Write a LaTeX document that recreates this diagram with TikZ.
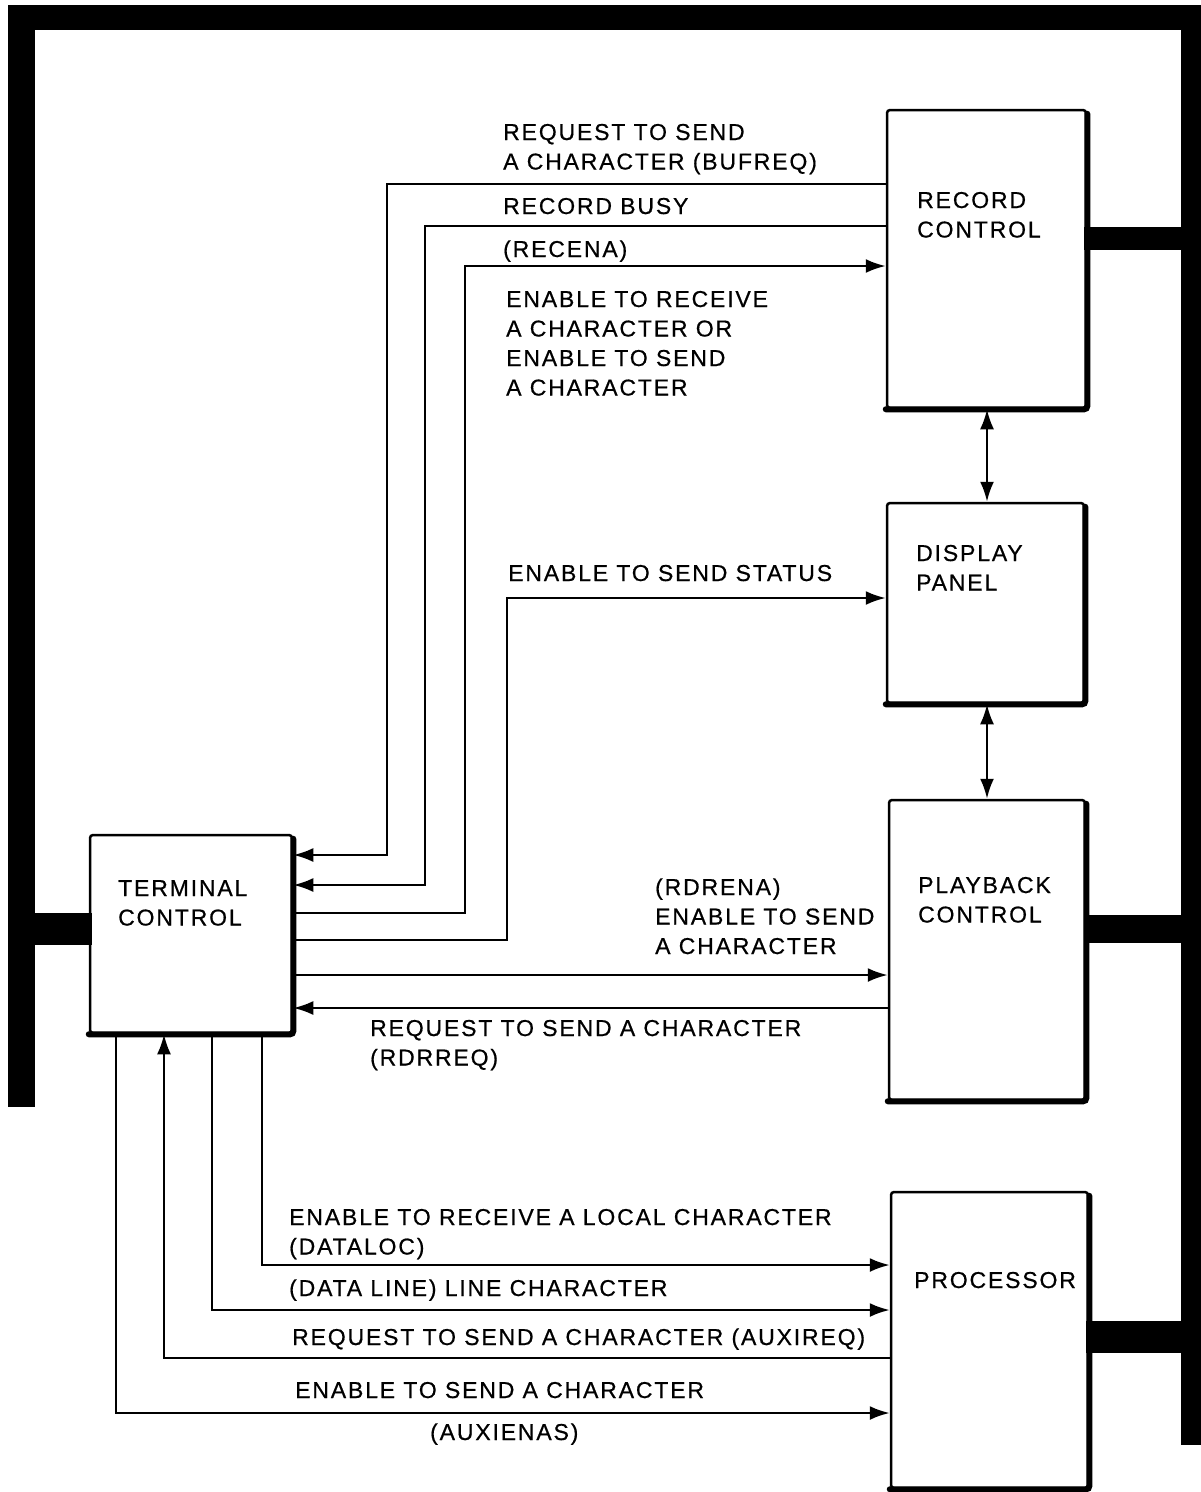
\documentclass[tikz,border=0pt]{standalone}
\usepackage{fontspec}
\setmainfont{Liberation Sans}[LetterSpace=8,FakeBold=0.6]
\usetikzlibrary{arrows.meta}

\begin{document}
\begin{tikzpicture}[x=1pt,y=-1pt,
  every node/.style={font=\fontsize{23}{29.5}\selectfont},
  unit/.style={draw,line width=2.5pt,rounded corners=3pt,inner sep=0pt},
  shade edge/.style={line width=6pt,rounded corners=3pt,line cap=round},
  sig/.style={line width=2.4pt},
  tip/.style={-{Latex[length=20pt,width=14pt]}},
  both tips/.style={{Latex[length=20pt,width=14pt]}-{Latex[length=20pt,width=14pt]}},
  lbl/.style={anchor=base west,inner sep=0pt,align=left},
  bus/.style={fill=black}]

\useasboundingbox (0,0) rectangle (1201,1492);

% ---- system bus frame ----
\fill[bus] (8,5) rectangle (1201,30);
\fill[bus] (8,5) rectangle (35,1107);
\fill[bus] (1181,5) rectangle (1201,1445);
\fill[bus] (35,913) rectangle (92,945);
\fill[bus] (1084,227) rectangle (1181,250);
\fill[bus] (1084,915) rectangle (1181,943);
\fill[bus] (1086,1321) rectangle (1181,1353);

% ---- functional units ----
\node[unit,minimum width=199pt,minimum height=298pt] (rc) at (986.5,259) {};
\node[unit,minimum width=197pt,minimum height=200pt] (dp) at (985.5,603) {};
\node[unit,minimum width=196pt,minimum height=300pt] (pb) at (987,950) {};
\node[unit,minimum width=197pt,minimum height=296pt] (pr) at (989.5,1340) {};
\node[unit,minimum width=202pt,minimum height=198pt] (tc) at (191,934) {};

% heavy right and bottom edges of each unit
\foreach \u in {rc,dp,pb,pr,tc}
  \draw[shade edge] ([yshift=-5pt]\u.north east) -- (\u.south east) -- (\u.south west);

% unit titles (base = last line's baseline)
\node[lbl] (rct) at (917,237.5) {RECORD\\CONTROL};
\node[lbl] (dpt) at (916,590.5) {DISPLAY\\PANEL};
\node[lbl] (pbt) at (918,922.5) {PLAYBACK\\CONTROL};
\node[lbl] (prt) at (914,1288) {PROCESSOR};
\node[lbl] (tct) at (118,925.5) {TERMINAL\\CONTROL};

% ---- record control signals ----
\draw[sig,tip] (rc.west |- 0,184) -| (387,855) -- (tc.east |- 0,855);
\draw[sig,tip] (rc.west |- 0,226) -| (425,885) -- (tc.east |- 0,885);
\draw[sig,tip] (tc.east |- 0,913) -| (465,266) -- (rc.west |- 0,266);
\draw[sig,tip] (tc.east |- 0,940) -| (507,598) -- (dp.west |- 0,598);

% ---- playback control signals ----
\draw[sig,tip] (tc.east |- 0,975) -- (pb.west |- 0,975);
\draw[sig,tip] (pb.west |- 0,1008) -- (tc.east |- 0,1008);

% ---- processor signals ----
\draw[sig,tip] (tc.south -| 262,0) |- (pr.west |- 0,1265);
\draw[sig,tip] (tc.south -| 212,0) |- (pr.west |- 0,1310);
\draw[sig,tip] (pr.west |- 0,1358) -| (tc.south -| 164,0);
\draw[sig,tip] (tc.south -| 116,0) |- (pr.west |- 0,1413);

% ---- display panel links ----
\draw[sig,both tips] (rc.south -| 987,0) -- (dp.north -| 987,0);
\draw[sig,both tips] (dp.south -| 987,0) -- (pb.north -| 987,0);

% ---- signal names ----
\node[lbl] (l1) at (503,169.5) {REQUEST TO SEND\\A CHARACTER (BUFREQ)};
\node[lbl] (l2) at (503,214) {RECORD BUSY};
\node[lbl] (l3) at (503,257) {(RECENA)};
\node[lbl] (l4) at (506,395.5) {ENABLE TO RECEIVE\\A CHARACTER OR\\ENABLE TO SEND\\A CHARACTER};
\node[lbl] (l5) at (508,581) {ENABLE TO SEND STATUS};
\node[lbl] (l6) at (655,954) {(RDRENA)\\ENABLE TO SEND\\A CHARACTER};
\node[lbl] (l7) at (370,1065.5) {REQUEST TO SEND A CHARACTER\\(RDRREQ)};
\node[lbl] (l8) at (289,1254.5) {ENABLE TO RECEIVE A LOCAL CHARACTER\\(DATALOC)};
\node[lbl] (l9) at (289,1296) {(DATA LINE) LINE CHARACTER};
\node[lbl] (l10) at (292,1345) {REQUEST TO SEND A CHARACTER (AUXIREQ)};
\node[lbl] (l11) at (295,1398) {ENABLE TO SEND A CHARACTER};
\node[lbl] (l12) at (430,1440) {(AUXIENAS)};

\end{tikzpicture}
\end{document}
